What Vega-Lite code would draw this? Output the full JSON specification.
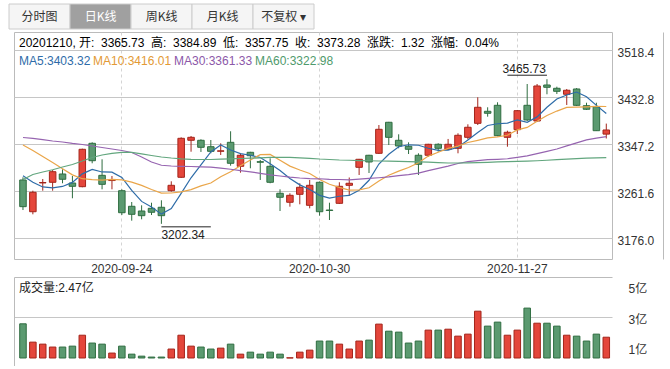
{
 "$schema": "https://vega.github.io/schema/vega-lite/v6.json",
 "background": "#ffffff",
 "padding": {"left": 8, "top": 3, "right": 2, "bottom": 0},
 "config": {
  "font": "Liberation Sans, Noto Sans CJK SC",
  "axis": {"labelFont": "Liberation Sans, Noto Sans CJK SC", "labelFontSize": 12, "labelColor": "#333333"},
  "legend": {"labelFont": "Liberation Sans, Noto Sans CJK SC", "labelFontSize": 12},
  "view": {"stroke": "#bbbbbb"}
 },
 "datasets": {
  "k": [
   {"d":"2020-09-10","o":3282.2,"h":3287.1,"l":3227.5,"c":3233.6,"v":2.56,"m5":3290.0,"m10":3346.0,"m30":3359.6,"m60":3283.1},
   {"d":"2020-09-11","o":3224.4,"h":3262.7,"l":3219.7,"c":3259.8,"v":1.37,"m5":3278.0,"m10":3336.0,"m30":3357.8,"m60":3292.2},
   {"d":"2020-09-14","o":3276.8,"h":3284.0,"l":3262.7,"c":3277.6,"v":1.24,"m5":3269.5,"m10":3325.0,"m30":3355.6,"m60":3296.8},
   {"d":"2020-09-15","o":3278.0,"h":3300.4,"l":3262.7,"c":3297.3,"v":1.05,"m5":3268.0,"m10":3314.0,"m30":3353.2,"m60":3300.8},
   {"d":"2020-09-16","o":3293.1,"h":3301.7,"l":3276.2,"c":3283.5,"v":1.05,"m5":3270.4,"m10":3302.5,"m30":3351.4,"m60":3305.9},
   {"d":"2020-09-17","o":3276.7,"h":3289.5,"l":3248.9,"c":3270.7,"v":1.11,"m5":3277.8,"m10":3291.5,"m30":3348.7,"m60":3310.4},
   {"d":"2020-09-18","o":3270.0,"h":3339.2,"l":3268.9,"c":3338.1,"v":1.82,"m5":3293.4,"m10":3284.5,"m30":3346.8,"m60":3316.8},
   {"d":"2020-09-21","o":3349.0,"h":3350.8,"l":3312.6,"c":3317.3,"v":1.31,"m5":3301.4,"m10":3283.0,"m30":3344.1,"m60":3323.2},
   {"d":"2020-09-22","o":3290.7,"h":3319.9,"l":3265.2,"c":3274.3,"v":1.24,"m5":3296.8,"m10":3282.0,"m30":3341.4,"m60":3327.7},
   {"d":"2020-09-23","o":3281.2,"h":3289.5,"l":3265.2,"c":3282.0,"v":0.66,"m5":3296.5,"m10":3283.4,"m30":3338.6,"m60":3330.8},
   {"d":"2020-09-24","o":3262.7,"h":3265.2,"l":3218.4,"c":3222.6,"v":1.11,"m5":3286.9,"m10":3282.4,"m30":3335.9,"m60":3332.3},
   {"d":"2020-09-25","o":3234.3,"h":3242.1,"l":3208.1,"c":3219.7,"v":0.59,"m5":3263.2,"m10":3278.3,"m30":3332.3,"m60":3332.3},
   {"d":"2020-09-28","o":3225.7,"h":3236.1,"l":3210.6,"c":3217.2,"v":0.46,"m5":3243.2,"m10":3272.3,"m30":3324.1,"m60":3329.9},
   {"d":"2020-09-29","o":3230.6,"h":3240.8,"l":3218.4,"c":3223.4,"v":0.40,"m5":3233.0,"m10":3264.9,"m30":3315.0,"m60":3326.8},
   {"d":"2020-09-30","o":3232.5,"h":3245.2,"l":3202.34,"c":3217.2,"v":0.40,"m5":3220.0,"m10":3258.3,"m30":3309.0,"m60":3324.1},
   {"d":"2020-10-09","o":3262.7,"h":3279.8,"l":3260.9,"c":3272.5,"v":0.92,"m5":3230.0,"m10":3258.5,"m30":3307.7,"m60":3322.2},
   {"d":"2020-10-12","o":3287.1,"h":3359.9,"l":3285.8,"c":3358.1,"v":1.82,"m5":3257.7,"m10":3260.5,"m30":3307.1,"m60":3320.8},
   {"d":"2020-10-13","o":3354.5,"h":3362.3,"l":3333.7,"c":3359.9,"v":1.11,"m5":3286.2,"m10":3264.7,"m30":3306.8,"m60":3319.9},
   {"d":"2020-10-14","o":3354.5,"h":3356.3,"l":3333.2,"c":3341.7,"v":1.05,"m5":3309.9,"m10":3271.5,"m30":3306.2,"m60":3319.5},
   {"d":"2020-10-15","o":3342.8,"h":3355.0,"l":3330.8,"c":3334.4,"v":0.92,"m5":3333.3,"m10":3276.7,"m30":3305.5,"m60":3319.5},
   {"d":"2020-10-16","o":3334.5,"h":3349.0,"l":3327.7,"c":3335.3,"v":0.98,"m5":3345.9,"m10":3288.0,"m30":3303.7,"m60":3320.1},
   {"d":"2020-10-19","o":3350.8,"h":3370.9,"l":3308.2,"c":3312.6,"v":1.24,"m5":3336.8,"m10":3297.3,"m30":3301.7,"m60":3320.8},
   {"d":"2020-10-20","o":3307.1,"h":3330.8,"l":3295.5,"c":3327.2,"v":0.59,"m5":3330.2,"m10":3308.2,"m30":3299.3,"m60":3321.3},
   {"d":"2020-10-21","o":3332.6,"h":3333.5,"l":3303.5,"c":3326.4,"v":0.72,"m5":3327.2,"m10":3318.6,"m30":3297.1,"m60":3321.9},
   {"d":"2020-10-22","o":3315.5,"h":3318.6,"l":3282.2,"c":3314.5,"v":0.59,"m5":3323.2,"m10":3328.3,"m30":3294.4,"m60":3322.6},
   {"d":"2020-10-23","o":3307.1,"h":3321.7,"l":3276.2,"c":3278.0,"v":0.72,"m5":3311.7,"m10":3328.8,"m30":3291.6,"m60":3323.2},
   {"d":"2020-10-26","o":3258.0,"h":3265.2,"l":3225.7,"c":3250.7,"v":0.59,"m5":3299.4,"m10":3318.1,"m30":3289.5,"m60":3323.2},
   {"d":"2020-10-27","o":3241.6,"h":3258.0,"l":3233.6,"c":3254.3,"v":0.35,"m5":3284.8,"m10":3307.5,"m30":3287.3,"m60":3323.2},
   {"d":"2020-10-28","o":3256.1,"h":3276.2,"l":3237.9,"c":3268.9,"v":0.72,"m5":3273.3,"m10":3300.3,"m30":3285.8,"m60":3322.6},
   {"d":"2020-10-29","o":3236.1,"h":3282.2,"l":3230.6,"c":3272.5,"v":0.85,"m5":3264.9,"m10":3294.1,"m30":3284.7,"m60":3321.7},
   {"d":"2020-10-30","o":3278.0,"h":3279.5,"l":3217.2,"c":3224.4,"v":1.44,"m5":3254.2,"m10":3283.0,"m30":3284.4,"m60":3320.4},
   {"d":"2020-11-02","o":3227.5,"h":3240.8,"l":3209.3,"c":3226.6,"v":1.44,"m5":3249.3,"m10":3274.4,"m30":3283.3,"m60":3319.5},
   {"d":"2020-11-03","o":3239.7,"h":3278.0,"l":3238.5,"c":3270.7,"v":1.24,"m5":3252.6,"m10":3268.7,"m30":3283.1,"m60":3318.6},
   {"d":"2020-11-04","o":3272.5,"h":3286.7,"l":3253.9,"c":3276.2,"v":0.92,"m5":3254.1,"m10":3263.7,"m30":3282.4,"m60":3318.1},
   {"d":"2020-11-05","o":3305.3,"h":3320.5,"l":3291.3,"c":3319.9,"v":1.44,"m5":3263.6,"m10":3264.3,"m30":3283.6,"m60":3317.5},
   {"d":"2020-11-06","o":3327.2,"h":3328.0,"l":3294.9,"c":3315.0,"v":1.50,"m5":3281.7,"m10":3268.0,"m30":3285.1,"m60":3317.2},
   {"d":"2020-11-09","o":3330.8,"h":3382.3,"l":3329.5,"c":3374.5,"v":2.54,"m5":3311.3,"m10":3280.3,"m30":3286.3,"m60":3316.8},
   {"d":"2020-11-10","o":3387.3,"h":3388.0,"l":3345.9,"c":3359.9,"v":2.08,"m5":3329.1,"m10":3290.9,"m30":3287.7,"m60":3316.5},
   {"d":"2020-11-11","o":3354.5,"h":3365.4,"l":3339.9,"c":3344.1,"v":2.02,"m5":3342.7,"m10":3298.4,"m30":3290.0,"m60":3316.1},
   {"d":"2020-11-12","o":3343.6,"h":3350.8,"l":3329.5,"c":3338.1,"v":1.31,"m5":3346.3,"m10":3305.0,"m30":3291.9,"m60":3315.7},
   {"d":"2020-11-13","o":3327.2,"h":3330.8,"l":3291.3,"c":3310.8,"v":1.44,"m5":3345.5,"m10":3313.6,"m30":3294.8,"m60":3315.3},
   {"d":"2020-11-16","o":3327.2,"h":3348.0,"l":3324.6,"c":3347.2,"v":2.15,"m5":3340.0,"m10":3325.7,"m30":3299.1,"m60":3314.6},
   {"d":"2020-11-17","o":3347.2,"h":3349.0,"l":3333.7,"c":3339.9,"v":2.15,"m5":3336.0,"m10":3332.6,"m30":3303.2,"m60":3313.9},
   {"d":"2020-11-18","o":3338.1,"h":3356.9,"l":3336.8,"c":3347.2,"v":2.21,"m5":3336.6,"m10":3339.7,"m30":3307.3,"m60":3313.1},
   {"d":"2020-11-19","o":3339.9,"h":3367.2,"l":3330.8,"c":3363.6,"v":1.76,"m5":3341.7,"m10":3344.0,"m30":3312.2,"m60":3313.1},
   {"d":"2020-11-20","o":3359.9,"h":3383.6,"l":3356.3,"c":3378.2,"v":1.89,"m5":3355.2,"m10":3350.4,"m30":3315.7,"m60":3313.5},
   {"d":"2020-11-23","o":3385.4,"h":3432.8,"l":3382.3,"c":3414.6,"v":3.38,"m5":3368.7,"m10":3354.4,"m30":3317.6,"m60":3313.9},
   {"d":"2020-11-24","o":3407.3,"h":3414.6,"l":3397.5,"c":3403.7,"v":2.41,"m5":3381.5,"m10":3358.8,"m30":3319.1,"m60":3314.4},
   {"d":"2020-11-25","o":3418.2,"h":3423.7,"l":3361.8,"c":3362.9,"v":2.67,"m5":3384.6,"m10":3360.6,"m30":3319.8,"m60":3315.0},
   {"d":"2020-11-26","o":3359.9,"h":3372.0,"l":3342.8,"c":3369.1,"v":1.82,"m5":3385.7,"m10":3363.7,"m30":3320.9,"m60":3315.5},
   {"d":"2020-11-27","o":3373.8,"h":3409.7,"l":3366.0,"c":3408.4,"v":2.15,"m5":3391.7,"m10":3373.5,"m30":3323.4,"m60":3316.1},
   {"d":"2020-11-30","o":3418.2,"h":3457.0,"l":3389.6,"c":3391.5,"v":3.58,"m5":3387.1,"m10":3377.9,"m30":3326.0,"m60":3316.6},
   {"d":"2020-12-01","o":3389.6,"h":3457.0,"l":3387.8,"c":3453.4,"v":2.60,"m5":3397.1,"m10":3389.3,"m30":3330.2,"m60":3317.2},
   {"d":"2020-12-02","o":3455.2,"h":3465.73,"l":3438.3,"c":3451.0,"v":2.60,"m5":3414.7,"m10":3399.7,"m30":3334.4,"m60":3318.1},
   {"d":"2020-12-03","o":3449.2,"h":3452.1,"l":3438.8,"c":3443.7,"v":2.41,"m5":3429.6,"m10":3407.7,"m30":3338.7,"m60":3319.2},
   {"d":"2020-12-04","o":3438.3,"h":3447.9,"l":3418.8,"c":3445.6,"v":1.82,"m5":3437.0,"m10":3414.4,"m30":3344.3,"m60":3320.2},
   {"d":"2020-12-07","o":3447.9,"h":3449.7,"l":3416.9,"c":3418.2,"v":1.76,"m5":3442.4,"m10":3414.8,"m30":3349.8,"m60":3321.2},
   {"d":"2020-12-08","o":3417.5,"h":3422.9,"l":3409.7,"c":3411.0,"v":1.44,"m5":3433.9,"m10":3415.5,"m30":3355.1,"m60":3322.1},
   {"d":"2020-12-09","o":3415.7,"h":3422.9,"l":3371.4,"c":3371.96,"v":1.89,"m5":3418.1,"m10":3416.4,"m30":3358.5,"m60":3322.6},
   {"d":"2020-12-10","o":3365.73,"h":3384.89,"l":3357.75,"c":3373.28,"v":1.69,"m5":3403.32,"m10":3416.01,"m30":3361.33,"m60":3322.98}
  ],
  "hdr": [
   {"s":"20201210, 开:"},{"s":"3365.73"},{"s":"高:"},{"s":"3384.89"},{"s":"低:"},{"s":"3357.75"},
   {"s":"收:"},{"s":"3373.28"},{"s":"涨跌:"},{"s":"1.32"},{"s":"涨幅:"},{"s":"0.04%"}
  ]
 },
 "spacing": 1,
 "resolve": {"scale": {"x": "independent", "y": "independent"}},
 "vconcat": [
  {
   "width": 305, "height": 25,
   "view": {"stroke": null},
   "data": {"values": [
    {"tab":"分时图","sel":0},{"tab":"日K线","sel":1},{"tab":"周K线","sel":0},{"tab":"月K线","sel":0},{"tab":"不复权 ▾","sel":0}
   ]},
   "encoding": {"x": {"field": "tab", "type": "nominal", "sort": null, "axis": null, "scale": {"range": [-5, 300], "paddingInner": 0, "paddingOuter": 0}}},
   "layer": [
    {"mark": {"type": "rect", "stroke": "#cccccc", "strokeWidth": 1},
     "encoding": {"fill": {"condition": {"test": "datum.sel == 1", "value": "#a0a0a0"}, "value": "#f5f5f5"}}},
    {"mark": {"type": "text", "fontSize": 12, "font": "Noto Sans CJK SC"},
     "encoding": {"text": {"field": "tab"}, "fill": {"condition": {"test": "datum.sel == 1", "value": "#ffffff"}, "value": "#333333"}}}
   ]
  },
  {
   "spacing": 2,
   "resolve": {"scale": {"x": "independent", "y": "independent"}},
   "vconcat": [
    {
     "width": 598, "height": 227,
     "view": {"stroke": "#bbbbbb"},
     "resolve": {"scale": {"y": "independent"}},
     "layer": [
      {
       "data": {"name": "k"},
       "encoding": {"x": {"field": "d", "type": "ordinal", "sort": null,
         "scale": {"paddingInner": 0, "paddingOuter": 0.243, "align": 0.84},
         "axis": {"values": ["2020-09-24","2020-10-30","2020-11-27"], "domain": false, "ticks": false, "labelPadding": 4, "labelAngle": 0, "grid": true, "gridDash": [3,3], "gridColor": "#d4d4d4", "title": null, "bandPosition": 0.5}}},
       "layer": [
        {"mark": {"type": "rule", "strokeWidth": 1},
         "encoding": {
          "y": {"field": "l", "type": "quantitative", "scale": {"domain": [3138.3, 3551.7], "nice": false, "zero": false},
            "axis": {"orient": "right", "values": [3176.0, 3261.6, 3347.2, 3432.8, 3518.4], "format": ".1f", "domain": false, "ticks": false, "labelPadding": 5, "labelOffset": 2, "grid": true, "gridColor": "#c6c6c6", "title": null}},
          "y2": {"field": "h"},
          "color": {"condition": {"test": "datum.c >= datum.o", "value": "#a3251b"}, "value": "#2f6d40"}}},
        {"mark": {"type": "bar", "width": {"band": 0.66}, "strokeWidth": 1},
         "encoding": {
          "y": {"field": "o", "type": "quantitative"},
          "y2": {"field": "c"},
          "fill": {"condition": {"test": "datum.c >= datum.o", "value": "#e4463b"}, "value": "#5b9a70"},
          "stroke": {"condition": {"test": "datum.c >= datum.o", "value": "#a3251b"}, "value": "#2f6d40"}}},
        {"transform": [{"fold": ["m5","m10","m30","m60"], "as": ["ma","val"]}],
         "mark": {"type": "line", "strokeWidth": 1.2},
         "encoding": {
          "y": {"field": "val", "type": "quantitative"},
          "color": {"field": "ma", "type": "nominal",
           "scale": {"domain": ["m5","m10","m30","m60"], "range": ["#2e6ca8","#eaa64a","#9664b0","#62a67e"]},
           "legend": {"orient": "none", "legendX": 5, "legendY": 51, "direction": "horizontal", "columns": 4, "title": null,
             "symbolSize": 0.01, "symbolOpacity": 0, "symbolStrokeWidth": 0.01, "labelOffset": -12, "columnPadding": 2, "padding": 0, "labelLimit": 0, "gridAlign": "none",
             "labelExpr": "{'m5':'MA5:3403.32','m10':'MA10:3416.01','m30':'MA30:3361.33','m60':'MA60:3322.98'}[datum.label]",
             "encode": {"labels": {"update": {"fill": {"signal": "{'m5':'#2e6ca8','m10':'#e39a35','m30':'#8c58a8','m60':'#4f9a6c'}[datum.value]"}}}}}}}},
        {"transform": [{"filter": "datum.d == '2020-12-02'"}],
         "mark": {"type": "text", "align": "right", "baseline": "alphabetic", "dy": -6, "dx": -1, "fontSize": 12, "color": "#222222"},
         "encoding": {"y": {"field": "h", "type": "quantitative"}, "text": {"field": "h", "type": "quantitative", "format": ".2f"}}},
        {"transform": [{"filter": "datum.d == '2020-12-02'"}],
         "mark": {"type": "rule", "color": "#222222", "strokeWidth": 1, "yOffset": -4},
         "encoding": {"x": {"field": "d", "type": "ordinal", "bandPosition": 0.5}, "x2": {"datum": "2020-11-26"}, "y": {"field": "h", "type": "quantitative"}}},
        {"transform": [{"filter": "datum.d == '2020-09-30'"}],
         "mark": {"type": "text", "align": "left", "baseline": "top", "dy": 6, "fontSize": 12, "color": "#222222"},
         "encoding": {"y": {"field": "l", "type": "quantitative"}, "text": {"field": "l", "type": "quantitative", "format": ".2f"}}},
        {"transform": [{"filter": "datum.d == '2020-09-30'"}],
         "mark": {"type": "rule", "color": "#222222", "strokeWidth": 1, "yOffset": 3},
         "encoding": {"x": {"field": "d", "type": "ordinal", "bandPosition": 0.5}, "x2": {"datum": "2020-10-15"}, "y": {"field": "l", "type": "quantitative"}}}
       ]
      },
      {
       "data": {"name": "hdr"},
       "mark": {"type": "point", "opacity": 0},
       "encoding": {"shape": {"field": "s", "type": "nominal", "sort": null,
        "legend": {"orient": "none", "legendX": 5, "legendY": 33, "direction": "horizontal", "columns": 12, "title": null,
          "symbolSize": 0.01, "symbolOpacity": 0, "symbolStrokeWidth": 0.01, "labelOffset": -12, "columnPadding": 6, "padding": 0, "labelLimit": 0, "gridAlign": "none",
          "encode": {"labels": {"update": {"fill": {"signal": "indexof(['3365.73','3357.75'], datum.value) >= 0 ? '#3a8a59' : (indexof(['3384.89','3373.28','1.32','0.04%'], datum.value) >= 0 ? '#e4372b' : '#222222')"}}}}}}}
      },
      {
       "data": {"values": [{}]},
       "mark": {"type": "rule", "opacity": 0},
       "encoding": {"y": {"datum": 0, "type": "quantitative", "scale": {"domain": [0, 1]},
         "axis": {"orient": "right", "offset": 51, "domain": true, "domainColor": "#bbbbbb", "labels": false, "ticks": false, "grid": false, "title": null}}}
      }
     ]
    },
    {
     "width": 598, "height": 89,
     "view": {"stroke": null},
     "title": {"text": "成交量:2.47亿", "anchor": "start", "frame": "group", "offset": -18, "fontSize": 12, "fontWeight": "normal", "color": "#222222", "dx": 5, "font": "Liberation Sans, Noto Sans CJK SC"},
     "resolve": {"scale": {"y": "independent"}},
     "layer": [
      {
       "data": {"name": "k"},
       "mark": {"type": "bar", "width": {"band": 0.66}, "strokeWidth": 1},
       "encoding": {
        "x": {"field": "d", "type": "ordinal", "sort": null,
          "scale": {"paddingInner": 0, "paddingOuter": 0.243, "align": 0.84},
          "axis": {"orient": "top", "domain": true, "domainColor": "#bbbbbb", "labels": false, "ticks": false, "grid": false, "title": null}},
        "y": {"field": "v", "type": "quantitative", "scale": {"domain": [-0.18, 5.6], "nice": false, "zero": false},
          "axis": {"orient": "right", "values": [1, 3, 5], "labelExpr": "datum.value + '亿'", "domain": false, "ticks": false, "labelPadding": 16, "labelOffset": 2, "grid": true,
            "gridColor": {"condition": {"test": "datum.value == 3", "value": "#c6c6c6"}, "value": "rgba(0,0,0,0)"}, "title": null}},
        "y2": {"datum": 0.34},
        "fill": {"condition": {"test": "datum.c >= datum.o", "value": "#e4463b"}, "value": "#5b9a70"},
        "stroke": {"condition": {"test": "datum.c >= datum.o", "value": "#a3251b"}, "value": "#2f6d40"}}
      },
      {
       "data": {"values": [{}]},
       "mark": {"type": "rule", "opacity": 0},
       "encoding": {"y": {"datum": 0, "type": "quantitative", "scale": {"domain": [0, 1]},
         "axis": {"orient": "left", "domain": true, "domainColor": "#bbbbbb", "labels": false, "ticks": false, "grid": false, "title": null}}}
      }
     ]
    }
   ]
  }
 ]
}
